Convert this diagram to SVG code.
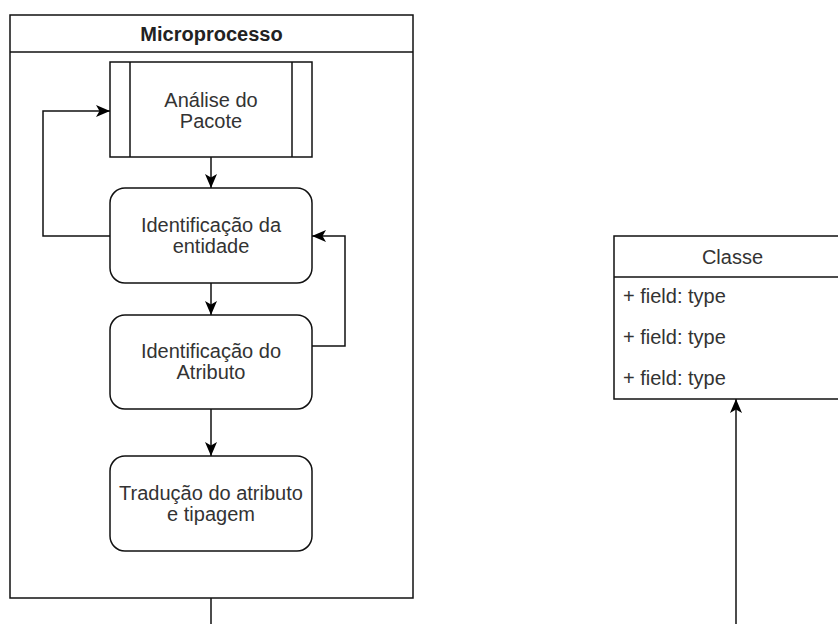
<svg xmlns="http://www.w3.org/2000/svg" width="838" height="624" viewBox="0 0 838 624">
<style>
.box{fill:#fff;stroke:#111;stroke-width:1.5}
.t{font-family:"Liberation Sans",Arial,sans-serif;font-size:20px;fill:#333;text-anchor:middle}
.f{font-family:"Liberation Sans",Arial,sans-serif;font-size:20px;fill:#333}
.b{font-weight:bold;fill:#222}
.c{fill:none;stroke:#111;stroke-width:1.5}
</style>
<defs>
<marker id="ah" markerUnits="userSpaceOnUse" markerWidth="15" markerHeight="13" refX="14" refY="6.5" orient="auto">
<path d="M0,0.5 L14,6.5 L0,12.5 L3.5,6.5 Z" fill="#000"/>
</marker>
</defs>
<rect width="838" height="624" fill="#fff"/>
<g id="microprocesso">
<rect class="box" x="10" y="15" width="403" height="583"/>
<line x1="10" y1="52" x2="413" y2="52" stroke="#111" stroke-width="1.5"/>
<text class="t b" x="211.5" y="41">Microprocesso</text>
</g>
<g id="analise">
<rect class="box" x="110" y="62" width="202" height="95"/>
<line x1="130" y1="62" x2="130" y2="157" stroke="#111" stroke-width="1.5"/>
<line x1="292" y1="62" x2="292" y2="157" stroke="#111" stroke-width="1.5"/>
<text class="t" x="211" y="106.5">Análise do</text>
<text class="t" x="211" y="127.5">Pacote</text>
</g>
<g id="entidade">
<rect class="box" x="110" y="188" width="202" height="95" rx="15" ry="15"/>
<text class="t" x="211" y="232">Identificação da</text>
<text class="t" x="211" y="253">entidade</text>
</g>
<g id="atributo">
<rect class="box" x="110" y="315" width="202" height="94" rx="15" ry="15"/>
<text class="t" x="211" y="358">Identificação do</text>
<text class="t" x="211" y="379">Atributo</text>
</g>
<g id="traducao">
<rect class="box" x="110" y="456" width="202" height="95" rx="15" ry="15"/>
<text class="t" x="211" y="499.5">Tradução do atributo</text>
<text class="t" x="211" y="520.5">e tipagem</text>
</g>
<g id="classe">
<rect class="box" x="614" y="236" width="237" height="163"/>
<line x1="614" y1="277" x2="851" y2="277" stroke="#111" stroke-width="1.5"/>
<text class="t" x="732.5" y="263.5">Classe</text>
<text class="f" x="623" y="303">+ field: type</text>
<text class="f" x="623" y="344">+ field: type</text>
<text class="f" x="623" y="385">+ field: type</text>
</g>
<g id="connectors">
<path class="c" d="M211,157 L211,188" marker-end="url(#ah)"/>
<path class="c" d="M211,283 L211,315" marker-end="url(#ah)"/>
<path class="c" d="M211,409 L211,456" marker-end="url(#ah)"/>
<path class="c" d="M110,236 L43,236 L43,111 L110,111" marker-end="url(#ah)"/>
<path class="c" d="M312,346 L345,346 L345,236 L312,236" marker-end="url(#ah)"/>
<path class="c" d="M211,598 L211,624"/>
<path class="c" d="M736,624 L736,399" marker-end="url(#ah)"/>
</g>
</svg>
